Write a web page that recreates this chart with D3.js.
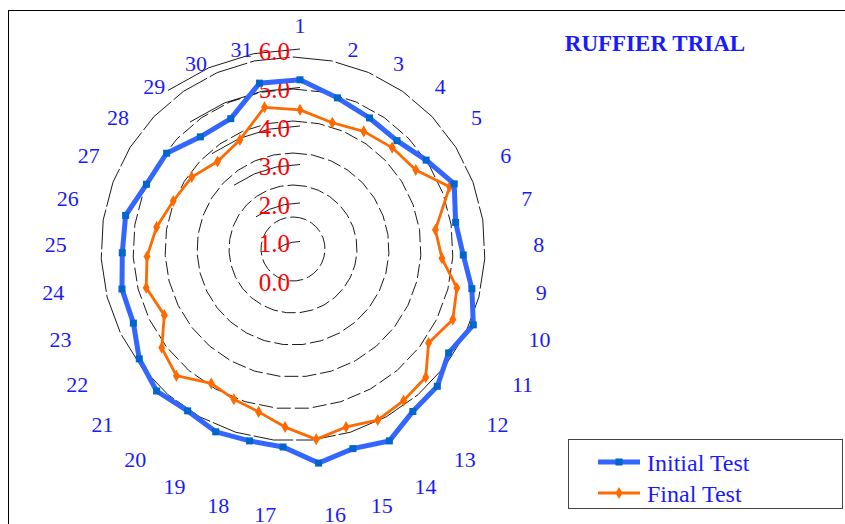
<!DOCTYPE html>
<html>
<head>
<meta charset="utf-8">
<script src="https://cdn.jsdelivr.net/npm/d3@7"></script>
<style>
  body { margin: 0; background: #fff; }
  text { font-family: "Liberation Serif", "DejaVu Serif", serif; }
</style>
</head>
<body>
<svg id="chart" width="845" height="524"></svg>
<script>
var categories = ["1", "2", "3", "4", "5", "6", "7", "8", "9", "10", "11", "12", "13", "14", "15", "16",
    "17", "18", "19", "20", "21", "22", "23", "24", "25", "26", "27", "28", "29", "30", "31"];

var initialTest = [5.20, 4.83, 4.58, 4.41, 4.52, 4.72, 4.31, 4.29, 4.47, 4.65, 4.30, 4.51, 4.50, 4.78, 4.59, 4.78,
    4.36, 4.38, 4.51, 4.48, 4.71, 4.65, 4.47, 4.63, 4.67, 4.83, 4.70, 4.78, 4.53, 4.56, 5.22];

var finalTest = [4.42, 4.17, 4.20, 4.19, 4.15, 4.58, 3.75, 3.73, 4.08, 4.10, 3.72, 4.13, 4.13, 4.16, 4.00, 4.16,
    3.84, 3.59, 3.54, 3.54, 4.06, 4.00, 3.64, 4.00, 4.02, 3.97, 3.88, 3.88, 3.75, 3.96, 4.58];

var tickValues = [0, 1, 2, 3, 4, 5, 6];
var tickLabels = ["0.0", "1.0", "2.0", "3.0", "4.0", "5.0", "6.0"];
var seriesNames = ["Initial Test", "Final Test"];

var svg = d3.select("#chart");
var n = categories.length;

// data centre / grid centre (the grid rings in the original are drawn off-centre)
var cx = 300, cy = 280;
var gx = 293, gy = 249;

var angle = d3.scaleLinear().domain([0, n]).range([0, 2 * Math.PI]);
var r = d3.scaleLinear().domain([0, 6]).range([0, 231]);
var rGrid = d3.scaleLinear().domain([0, 6]).range([0, 192]);

// frame
svg.append("rect")
    .attr("x", 8.5).attr("y", 10.5)
    .attr("width", 850).attr("height", 530)
    .attr("fill", "none")
    .attr("stroke", "#000")
    .attr("stroke-width", 1);

// grid rings
var gridG = svg.append("g").attr("transform", "translate(" + gx + "," + gy + ")");
var ringLine = function(v) {
    return d3.lineRadial()
        .angle(function(d, i) { return angle(i); })
        .radius(function() { return rGrid(v); })
        .curve(d3.curveLinearClosed)(categories);
};
gridG.selectAll("path.ring")
    .data(tickValues.slice(1))
    .join("path")
    .attr("class", "ring")
    .attr("d", ringLine)
    .attr("fill", "none")
    .attr("stroke", "#000")
    .attr("stroke-width", 0.9)
    .attr("stroke-dasharray", function(d) { return d == 6 ? "40,3" : "14,4"; });

// short solid grid pieces near the value axis (categories 29 -> 1)
var plotG = svg.append("g").attr("transform", "translate(" + cx + "," + cy + ")");
var arcIdx = [28, 29, 30, 31];
plotG.selectAll("path.tick")
    .data(tickValues.slice(1))
    .join("path")
    .attr("class", "tick")
    .attr("d", function(v) {
        return d3.lineRadial()
            .angle(function(d) { return angle(d); })
            .radius(function() { return r(v); })(arcIdx);
    })
    .attr("fill", "none")
    .attr("stroke", "#000")
    .attr("stroke-width", 0.9);

// value axis labels
plotG.selectAll("text.val")
    .data(tickValues)
    .join("text")
    .attr("class", "val")
    .attr("x", -10)
    .attr("y", function(d) { return -r(d) + 2; })
    .attr("dy", "0.35em")
    .attr("text-anchor", "end")
    .attr("fill", "#ff0000")
    .attr("font-size", 25)
    .text(function(d, i) { return tickLabels[i]; });

// series
var seriesLine = d3.lineRadial()
    .angle(function(d, i) { return angle(i); })
    .radius(function(d) { return r(d); })
    .curve(d3.curveLinearClosed);

function pointX(d, i) { return r(d) * Math.sin(angle(i)); }
function pointY(d, i) { return -r(d) * Math.cos(angle(i)); }

plotG.append("path")
    .attr("d", seriesLine(finalTest))
    .attr("fill", "none")
    .attr("stroke", "#ff6a00")
    .attr("stroke-width", 2.8)
    .attr("stroke-linejoin", "round");
plotG.selectAll("path.fmark")
    .data(finalTest)
    .join("path")
    .attr("class", "fmark")
    .attr("d", d3.symbol(d3.symbolDiamond, 42))
    .attr("transform", function(d, i) { return "translate(" + pointX(d, i) + "," + pointY(d, i) + ")"; })
    .attr("fill", "#ff6a00");

plotG.append("path")
    .attr("d", seriesLine(initialTest))
    .attr("fill", "none")
    .attr("stroke", "#3366ff")
    .attr("stroke-width", 5);
plotG.selectAll("rect.imark")
    .data(initialTest)
    .join("rect")
    .attr("class", "imark")
    .attr("x", function(d, i) { return pointX(d, i) - 3.5; })
    .attr("y", function(d, i) { return pointY(d, i) - 3.5; })
    .attr("width", 7).attr("height", 7)
    .attr("fill", "#0066cc");

// category labels: anchored on the outside of a circle, first one above
var labelR = 236;
plotG.selectAll("text.cat")
    .data(categories)
    .join("text")
    .attr("class", "cat")
    .attr("x", function(d, i) { return labelR * Math.sin(angle(i)); })
    .attr("y", function(d, i) { return i == 0 ? -255 : -labelR * Math.cos(angle(i)); })
    .attr("dy", "0.35em")
    .attr("text-anchor", function(d, i) {
        var s = Math.sin(angle(i));
        return s > 0.01 ? "start" : (s < -0.01 ? "end" : "middle");
    })
    .attr("fill", "#1a1aff")
    .attr("font-size", 22)
    .text(function(d) { return d; });

// title
svg.append("text")
    .attr("x", 655).attr("y", 43)
    .attr("dy", "0.35em")
    .attr("text-anchor", "middle")
    .attr("fill", "#1a1aff")
    .attr("font-size", 23)
    .attr("font-weight", "bold")
    .text("RUFFIER TRIAL");

// legend
var leg = svg.append("g").attr("transform", "translate(568,439)");
leg.append("rect")
    .attr("x", 0.5).attr("y", 0.5)
    .attr("width", 274).attr("height", 69)
    .attr("fill", "#fff")
    .attr("stroke", "#444")
    .attr("stroke-width", 1);
var legY = d3.scalePoint().domain(seriesNames).range([23, 54]);
var legColor = ["#3366ff", "#ff6a00"];
seriesNames.forEach(function(name, i) {
    var y = legY(name);
    leg.append("line")
        .attr("x1", 30).attr("x2", 72)
        .attr("y1", y).attr("y2", y)
        .attr("stroke", legColor[i])
        .attr("stroke-width", i == 0 ? 5 : 2.8);
    if (i == 0) {
        leg.append("rect").attr("x", 47.5).attr("y", y - 3.5)
            .attr("width", 7).attr("height", 7).attr("fill", "#0066cc");
    } else {
        leg.append("path").attr("d", d3.symbol(d3.symbolDiamond, 42))
            .attr("transform", "translate(51," + y + ")").attr("fill", "#ff6a00");
    }
    leg.append("text")
        .attr("x", 79).attr("y", y + 1)
        .attr("dy", "0.35em")
        .attr("fill", "#1a1aff")
        .attr("font-size", 24)
        .text(name);
});
</script>
</body>
</html>
